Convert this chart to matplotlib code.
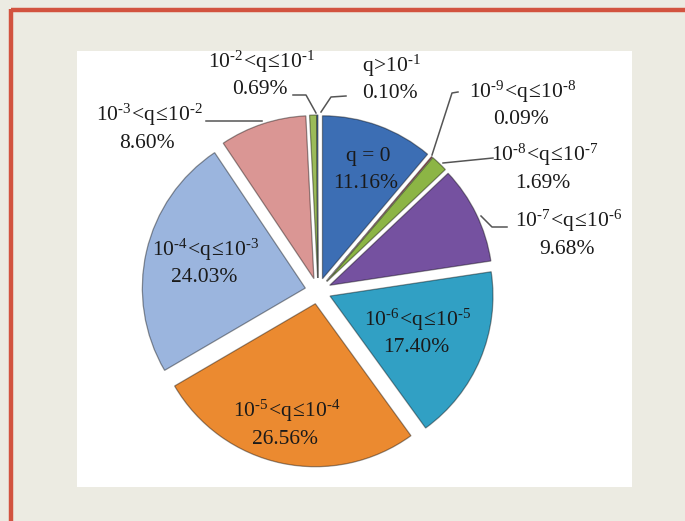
import matplotlib
matplotlib.use('Agg')
import matplotlib.pyplot as plt
from matplotlib.patches import Rectangle

plt.rcParams['font.family'] = ['Liberation Serif', 'DejaVu Serif']
plt.rcParams['mathtext.fontset'] = 'custom'
plt.rcParams['mathtext.rm'] = 'Liberation Serif'
plt.rcParams['mathtext.it'] = 'Liberation Serif'


def rng(lo, hi):
    # "10^lo < q <= 10^hi" with short hyphen minus and tight spacing
    return (r'$\mathregular{10^{\text{-}%d}\!<\!q\!\leq\!10^{\text{-}%d}}$' % (lo, hi))


# slices, clockwise from 12 o'clock
ranges = ['q = 0', rng(9, 8), rng(8, 7), rng(7, 6), rng(6, 5), rng(5, 4),
          rng(4, 3), rng(3, 2), rng(2, 1), r'$\mathregular{q\!>\!10^{\text{-}1}}$']
shares = [11.16, 0.09, 1.69, 9.68, 17.40, 26.56, 24.03, 8.60, 0.69, 0.10]
colors = ['#3C6EB4', '#C0504D', '#8CB545', '#7551A0', '#31A0C4',
          '#EB8A30', '#9BB5DE', '#DA9694', '#9BBB59', '#4F81BD']

W, H = 685, 521
fig = plt.figure(figsize=(W / 100, H / 100), dpi=100)
fig.patch.set_facecolor('#ECEBE2')
ax = fig.add_axes([0, 0, 1, 1])


def Y(y):
    # pixel row (from top) -> data y
    return H - y


# frame: red border on top/left, white panel
ax.plot([11, W], [Y(10), Y(10)], color='#D2533F', lw=3.2, solid_capstyle='butt')
ax.plot([11, 11], [Y(9), 0], color='#D2533F', lw=3.2, solid_capstyle='butt')
ax.add_patch(Rectangle((77, Y(487)), 555, 436, facecolor='white', edgecolor='none', zorder=0))

wedges, _ = ax.pie(shares, colors=colors, startangle=90, counterclock=False,
                   center=(318, Y(291)), radius=163, explode=[13] * len(shares),
                   frame=True,
                   wedgeprops=dict(edgecolor='#00000066', linewidth=0.9))
ax.set_xlim(0, W)
ax.set_ylim(0, H)
ax.set_aspect('auto')
ax.axis('off')

fs = 15.5
# (label x, label y) in pixels from top-left
label_pos = [(368, 156), (523, 92), (545, 155), (569, 221), (418, 320),
             (287, 411), (206, 250), (149, 115), (262, 62), (392, 66)]
for name, val, (lx, ly) in zip(ranges, shares, label_pos):
    ax.text(lx, Y(ly), name, fontsize=fs, ha='center', va='center', color='#1a1a1a')
    ax.text(lx - 2, Y(ly + 28), f'{val:.2f}%', fontsize=fs, ha='center', va='center',
            color='#1a1a1a')

# leader lines
leaders = [
    [(458, 92), (452, 93), (432, 155)],
    [(493, 158), (443, 163)],
    [(481, 216), (492, 227), (507, 227)],
    [(206, 121), (262, 121)],
    [(293, 95), (306, 95), (316, 113)],
    [(346, 96), (331, 97), (321, 112)],
]
for pts in leaders:
    ax.plot([p[0] for p in pts], [Y(p[1]) for p in pts], color='#555555', lw=1.1)

fig.savefig('out.png', dpi=100, facecolor=fig.get_facecolor())
